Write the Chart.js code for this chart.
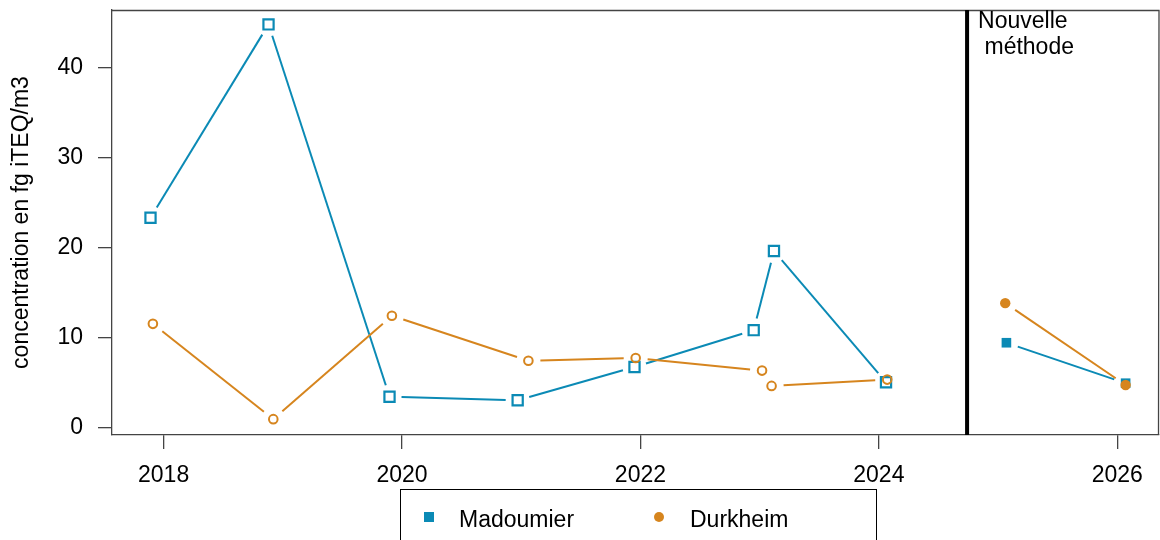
<!DOCTYPE html>
<html>
<head>
<meta charset="utf-8">
<script src="https://cdn.jsdelivr.net/npm/chart.js@4/dist/chart.umd.min.js"></script>
<style>
  html, body { margin: 0; padding: 0; background: #fff; }
  #wrap { width: 1160px; height: 540px; position: relative; }
</style>
</head>
<body>
<div id="wrap"><canvas id="c" width="1160" height="540"></canvas></div>
<script>
// ---- data ----
const xTickValues = [2018, 2020, 2022, 2024, 2026];
const yTickValues = [0, 10, 20, 30, 40];

const madoumierYears  = [2017.89, 2018.88, 2019.895, 2020.97, 2021.95, 2022.95, 2023.12, 2024.06];
const madoumierValues = [23.3, 44.8, 3.4, 3.0, 6.7, 10.8, 19.6, 5.0];
const madoumierNewYears  = [2025.07, 2026.07];
const madoumierNewValues = [9.4, 4.9];

const durkheimYears  = [2017.91, 2018.92, 2019.915, 2021.06, 2021.96, 2023.02, 2023.10, 2024.07];
const durkheimValues = [11.5, 0.9, 12.4, 7.4, 7.7, 6.3, 4.6, 5.3];
const durkheimNewYears  = [2025.06, 2026.07];
const durkheimNewValues = [13.8, 4.7];

const methodChangeYear = 2024.74;
const methodLabel = ['Nouvelle', ' méthode'];
const yTitle = 'concentration en fg iTEQ/m3';
const legendLabels = ['Madoumier', 'Durkheim'];

// ---- styles ----
const BLUE = '#0B8AB5';
const ORANGE = '#D6851E';
const AXIS = '#444';
const FONT = '"Liberation Sans", Arial, sans-serif';
const GAP = 12;

function pts(xs, ys) { return xs.map((x, i) => ({ x: x, y: ys[i] })); }

// R "type b" style: line segments with gaps around markers
function gapDash(ctx) {
  const dx = ctx.p1.x - ctx.p0.x, dy = ctx.p1.y - ctx.p0.y;
  const L = Math.hypot(dx, dy);
  const d = L - 2 * GAP;
  const tail = GAP + 10 + ctx.p0DataIndex * 0.001;
  if (d <= 0) return [0, L + tail];
  return [0, GAP, d, tail];
}

const lineBase = {
  showLine: true,
  borderWidth: 2,
  borderCapStyle: 'butt',
  segment: { borderDash: gapDash },
  tension: 0
};

const datasets = [
  Object.assign({}, lineBase, {
    label: 'Durkheim', data: pts(durkheimYears, durkheimValues), order: 0,
    borderColor: ORANGE, pointStyle: 'circle', pointRadius: 4.3, pointBorderWidth: 2,
    pointBorderColor: ORANGE, pointBackgroundColor: 'rgba(255,255,255,0)'
  }),
  Object.assign({}, lineBase, {
    label: 'Durkheim new', data: pts(durkheimNewYears, durkheimNewValues), order: 0,
    borderColor: ORANGE, pointStyle: 'circle', pointRadius: 5.2, pointBorderWidth: 0,
    pointBackgroundColor: ORANGE
  }),
  Object.assign({}, lineBase, {
    label: 'Madoumier', data: pts(madoumierYears, madoumierValues), order: 1,
    borderColor: BLUE, pointStyle: 'rect', pointRadius: 7.2, pointBorderWidth: 2.2,
    pointBorderColor: BLUE, pointBackgroundColor: 'rgba(255,255,255,0)'
  }),
  Object.assign({}, lineBase, {
    label: 'Madoumier new', data: pts(madoumierNewYears, madoumierNewValues), order: 1,
    borderColor: BLUE, pointStyle: 'rect', pointRadius: 6.8, pointBorderWidth: 0,
    pointBackgroundColor: BLUE
  })
];

const decor = {
  id: 'decor',
  beforeDatasetsDraw(chart) {
    const { ctx, chartArea: a, scales } = chart;
    ctx.save();
    // top & right frame
    ctx.strokeStyle = AXIS; ctx.lineWidth = 1.3;
    ctx.beginPath();
    ctx.moveTo(a.left, a.top + 0.5); ctx.lineTo(a.right, a.top + 0.5);
    ctx.lineTo(a.right - 0.5, a.bottom);
    ctx.stroke();
    // method change line
    const vx = scales.x.getPixelForValue(methodChangeYear);
    ctx.strokeStyle = '#000'; ctx.lineWidth = 4;
    ctx.beginPath(); ctx.moveTo(vx, a.top); ctx.lineTo(vx, a.bottom); ctx.stroke();
    // label
    ctx.fillStyle = '#000'; ctx.font = '23px ' + FONT;
    ctx.textAlign = 'left'; ctx.textBaseline = 'alphabetic';
    ctx.fillText(methodLabel[0], vx + 11, a.top + 18);
    ctx.fillText(methodLabel[1], vx + 11, a.top + 44);
    ctx.restore();
  },
  afterDraw(chart) {
    const { ctx, chartArea: a } = chart;
    ctx.save();
    // y title
    ctx.fillStyle = '#000'; ctx.font = '23px ' + FONT;
    ctx.translate(28, (a.top + a.bottom) / 2);
    ctx.rotate(-Math.PI / 2);
    ctx.textAlign = 'center'; ctx.textBaseline = 'alphabetic';
    ctx.fillText(yTitle, 0, 0);
    ctx.restore();
    // legend
    ctx.save();
    ctx.strokeStyle = '#000'; ctx.lineWidth = 1;
    ctx.strokeRect(400.5, 489.5, 476, 80);
    ctx.fillStyle = BLUE;
    ctx.fillRect(424, 512, 10, 10);
    ctx.fillStyle = ORANGE;
    ctx.beginPath(); ctx.arc(659, 517, 5, 0, Math.PI * 2); ctx.fill();
    ctx.fillStyle = '#000'; ctx.font = '23px ' + FONT;
    ctx.textAlign = 'left'; ctx.textBaseline = 'alphabetic';
    ctx.fillText(legendLabels[0], 459, 527);
    ctx.fillText(legendLabels[1], 690, 527);
    ctx.restore();
  }
};

function noPad(s) { s.paddingTop = 0; s.paddingBottom = 0; s.paddingLeft = 0; s.paddingRight = 0; }

new Chart(document.getElementById('c'), {
  type: 'scatter',
  data: { datasets: datasets },
  options: {
    responsive: false,
    animation: false,
    devicePixelRatio: 1,
    layout: { autoPadding: false, padding: { top: 10, right: 1, left: 0, bottom: 0 } },
    plugins: { legend: { display: false }, tooltip: { enabled: false } },
    scales: {
      x: {
        type: 'linear', min: 2017.567, max: 2026.35,
        afterBuildTicks(s) { s.ticks = xTickValues.map(v => ({ value: v })); },
        afterFit(s) { s.height = 105; noPad(s); },
        grid: { display: true, drawOnChartArea: false, drawTicks: true, tickLength: 14, color: AXIS, lineWidth: 1.3 },
        border: { display: true, color: AXIS, width: 1.3 },
        ticks: { color: '#000', font: { family: FONT, size: 23 }, padding: 13, maxRotation: 0, autoSkip: false,
                 callback: v => String(v) }
      },
      y: {
        type: 'linear', min: -0.86, max: 46.4,
        afterBuildTicks(s) { s.ticks = yTickValues.map(v => ({ value: v })); },
        afterFit(s) { s.width = 112; noPad(s); },
        grid: { display: true, drawOnChartArea: false, drawTicks: true, tickLength: 14, color: AXIS, lineWidth: 1.3 },
        border: { display: true, color: AXIS, width: 1.3 },
        ticks: { color: '#000', font: { family: FONT, size: 23 }, padding: 15, autoSkip: false,
                 callback: v => String(v) }
      }
    }
  },
  plugins: [decor]
});
</script>
</body>
</html>
